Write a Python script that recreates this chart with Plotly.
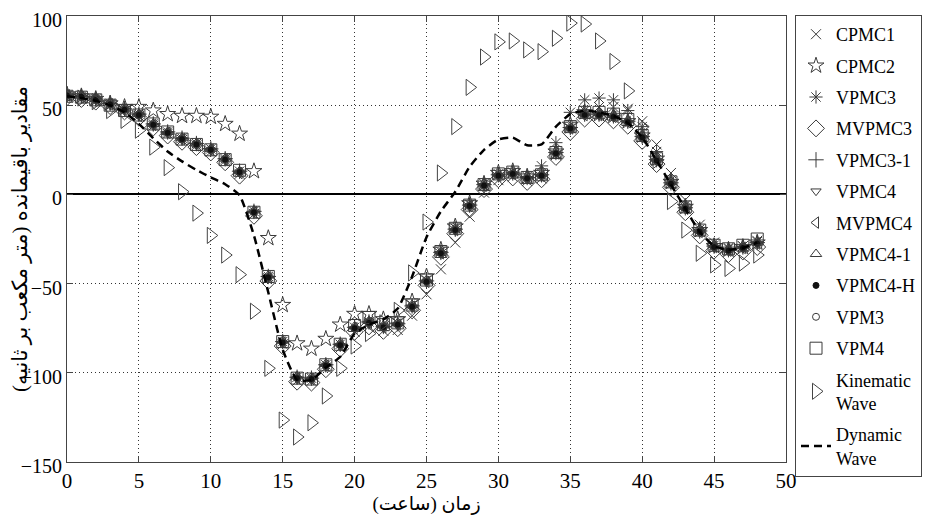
import plotly.graph_objects as go

hours = list(range(49))

cpmc1 = [55, 54, 52.5, 50, 47, 44, 38.5, 34, 30.5, 27.5, 24, 19, 11.5,
         -11, -47, -84, -104.5, -104.5, -97, -86, -77, -74, -76.5, -76, -68,
         -56, -42, -27, -12.5, 1, 8, 10, 7.5, 9, 22, 37, 47,
         49, 49, 48, 41, 28, 12, -3, -17, -27, -30, -29, -26]
cpmc2 = [56, 55, 53.5, 51, 49, 49, 47, 45, 44, 44, 43.5, 39.5, 34,
         13, -24.5, -62, -83.5, -86.5, -81, -73, -67, -67, -70, -70, -60,
         -46, -31, -18, -5, 6, 12, 13, 10, 12, 24, 39, 46,
         45, 44, 41, 33, 20, 7, -7, -20, -29, -31, -29.5, -27]
vpmc3 = [55.5, 55, 53.5, 51, 48, 45, 39.5, 35, 31.5, 28.5, 25.5, 20, 13,
         -9.5, -46, -82.5, -102.5, -103, -95.5, -84, -74.5, -71.5, -74, -72, -62,
         -48, -32, -19, -5.5, 6, 11.5, 12.5, 10, 16, 29, 46, 53,
         54, 53, 47, 38, 24, 8, -6, -19.5, -28.5, -30.5, -29, -26.5]
mvpmc3 = [54.5, 53.5, 52, 49.5, 46.5, 43, 37.5, 33, 29.5, 26.5, 23.5, 18, 10.5,
          -12, -48.5, -85, -105, -105.5, -98, -86.5, -77, -74, -76.5, -75, -65,
          -51, -35, -22, -8.5, 3, 8.5, 9.5, 7, 8.5, 21, 35, 42.5,
          42.5, 41.5, 38.5, 30, 17, 4, -10, -23, -31.5, -33.5, -32, -29.5]
vpmc3_1 = [56, 55, 53.5, 51, 48, 45, 39.5, 35, 31.5, 28.5, 25.5, 20, 13,
           -9.5, -46, -82.5, -102.5, -103, -95.5, -84, -74.5, -71.5, -74, -72.5, -62.5,
           -48.5, -32.5, -19.5, -6, 5.5, 11, 12, 9.5, 11, 23.5, 37.5, 45,
           45, 44, 41, 32.5, 19.5, 6.5, -7.5, -20.5, -29, -31, -29.5, -27]
vpmc4 = [55, 54.5, 53, 50, 47, 44, 38.5, 34, 30.5, 27.5, 24.5, 19, 12,
         -10.5, -47, -83.5, -103.5, -104, -96.5, -85, -75.5, -72.5, -75, -73.5, -63.5,
         -49.5, -33.5, -20.5, -7, 4.5, 10, 11, 8.5, 10, 22.5, 36.5, 44,
         44, 43, 40, 31.5, 18.5, 5.5, -8.5, -21.5, -30, -32, -30.5, -28]
mvpmc4 = [55.5, 54.5, 53, 50.5, 47.5, 44, 39, 34.5, 31, 27.5, 25, 19.5, 12,
          -10, -46.5, -83, -103, -103.5, -96, -84.5, -75, -72, -74.5, -73, -63,
          -49, -33, -20, -6.5, 5, 10.5, 11.5, 9, 10.5, 23, 37, 44.5,
          44.5, 43.5, 40.5, 32, 19, 6, -8, -21, -29.5, -31.5, -30, -27.5]
vpmc4_1 = [56, 55, 53.5, 51, 48, 45, 39.5, 35, 31.5, 28.5, 25.5, 20, 13,
           -9, -45.5, -82, -102, -102.5, -95, -83.5, -74, -71, -73.5, -72, -62,
           -48, -32, -19, -5.5, 6, 11.5, 12.5, 10, 11.5, 24, 38, 45.5,
           45.5, 44.5, 41.5, 33, 20, 7, -7, -20, -28.5, -30.5, -29, -26.5]
vpmc4_h = [55.5, 54.8, 53.3, 50.5, 47.5, 44.5, 39, 34.5, 31, 28, 25, 19.5, 12.5,
           -10, -46.5, -83, -103, -103.5, -96, -84.5, -75, -72, -74.5, -73, -63,
           -49, -33, -20, -6.5, 5, 10.5, 11.5, 9, 10.5, 23, 37, 44.5,
           44.5, 43.5, 40.5, 32, 19, 6, -8, -21, -29.5, -31.5, -30, -27.5]
vpm3 = [55.5, 55, 53, 50.5, 47.5, 44.5, 39, 34.5, 31, 28, 25, 19.5, 12.5,
        -10, -46.5, -83, -103, -103.5, -96, -84.5, -75, -72, -74.5, -73, -63,
        -49, -33, -20, -6.5, 5, 10.5, 11.5, 9, 10.5, 23, 37, 44.5,
        44.5, 43.5, 40.5, 32, 19, 6, -8, -21, -29.5, -31.5, -30, -27.5]
vpm4 = [55, 54.5, 53, 50, 47, 44.5, 39.5, 35, 31, 28, 25, 19.5, 13.5,
        -10, -46, -82.5, -103, -103.5, -95.5, -84, -73.5, -69, -73, -72, -62,
        -48, -32, -19, -6, 5.5, 11.5, 12.5, 9.5, 11, 23.5, 38, 46,
        46, 45, 42, 33, 20, 7, -7, -20, -28.5, -30.5, -28.5, -25]
kinematic = [55, 54, 52, 47, 41.5, 36, 26.5, 15, 1.5, -10.5, -23, -34, -45,
             -65.5, -97.5, -126.5, -136, -128, -113, -97.5, -85, -78, -72, -65, -44,
             -15.5, 12, 38, 60, 77, 85.5, 86, 81, 80, 87.5, 96, 95.5,
             86, 74.5, 58, 38, 19, -4, -20, -33, -39.5, -41.5, -38.5, -34]
dynamic = [55, 54, 52.5, 50, 46, 39.5, 31.5, 24, 18.5, 13.7, 9.5, 5.7, -0.5,
           -23, -55, -87, -104, -104, -97, -91, -78, -73, -70, -64, -46,
           -24, -9.5, 1.5, 15.5, 25, 30.8, 31.8, 27.5, 28, 38, 45, 47,
           46, 44, 40, 32, 19, 5.5, -8, -21, -29, -31, -30, -27]

x_ticks = [0, 5, 10, 15, 20, 25, 30, 35, 40, 45, 50]
y_ticks = [-150, -100, -50, 0, 50, 100]

series = [
    ("CPMC1", cpmc1, "x-thin-open", 10),
    ("CPMC2", cpmc2, "star-open", 12),
    ("VPMC3", vpmc3, "asterisk-open", 11),
    ("MVPMC3", mvpmc3, "diamond-open", 13),
    ("VPMC3-1", vpmc3_1, "cross-thin-open", 11),
    ("VPMC4", vpmc4, "triangle-down-open", 9),
    ("MVPMC4", mvpmc4, "triangle-left-open", 10),
    ("VPMC4-1", vpmc4_1, "triangle-up-open", 10),
    ("VPMC4-H", vpmc4_h, "circle", 6),
    ("VPM3", vpm3, "circle-open", 7),
    ("VPM4", vpm4, "square-open", 12),
]

SERIF = "Liberation Serif, Times New Roman, serif"
AR = "Liberation Serif, DejaVu Serif, DejaVu Sans, serif"

fig = go.Figure()
for name, vals, sym, sz in series:
    color = "#111" if sym == "circle" else "#3a3a3a"
    fig.add_trace(go.Scatter(
        x=hours, y=vals, mode="markers", name=name, legendgroup=name,
        marker=dict(symbol=sym, size=sz, color=color,
                    line=dict(width=1, color=color)),
    ))

fig.add_trace(go.Scatter(
    x=hours, y=kinematic, mode="markers", name="Kinematic<br>Wave",
    legendgroup="kin",
    marker=dict(symbol="triangle-right-open", size=14, color="#444",
                line=dict(width=1, color="#444")),
))
fig.add_trace(go.Scatter(
    x=hours, y=dynamic, mode="lines", name="Dynamic<br>Wave",
    legendgroup="dyn",
    line=dict(color="black", width=2.5, dash="8px,5px", shape="spline", smoothing=0.5),
))

axis_common = dict(
    showline=True, linecolor="#444", linewidth=1, mirror="allticks",
    ticks="inside", ticklen=6, tickcolor="#444", automargin=False,
    ticklabeloverflow="allow",
    showgrid=True, gridcolor="#333", gridwidth=1, griddash="1px,3px",
)

fig.update_xaxes(range=[0, 50], tickvals=x_ticks, zeroline=False,
                 tickfont=dict(family=SERIF, size=21, color="black"),
                 title=dict(text="زمان (ساعت)", standoff=0,
                            font=dict(family=AR, size=19, color="black")),
                 **axis_common)
fig.update_yaxes(range=[-150, 100], tickvals=y_ticks, zeroline=True,
                 zerolinecolor="black", zerolinewidth=2,
                 tickfont=dict(family=SERIF, size=20, color="black"),
                 ticklabelshift=4,
                 title=dict(text="مقادیر باقیمانده (متر مکعب بر ثانیه)", standoff=10,
                            font=dict(family=AR, size=21, color="black")),
                 **axis_common)

# the page body adds an 8px offset, so the figure is 8px smaller each way
fig.update_layout(
    width=922, height=507,
    margin=dict(l=59, r=144, t=8, b=53, autoexpand=False),
    plot_bgcolor="white", paper_bgcolor="white",
    legend=dict(
        xref="container", yref="container",
        x=787 / 922, y=1 - 7 / 507, xanchor="left", yanchor="top",
        bordercolor="#444", borderwidth=1, bgcolor="white",
        font=dict(family=SERIF, size=18, color="black"),
        tracegroupgap=5, itemsizing="trace", maxheight=500,
    ),
)

fig.write_html("out.html")
